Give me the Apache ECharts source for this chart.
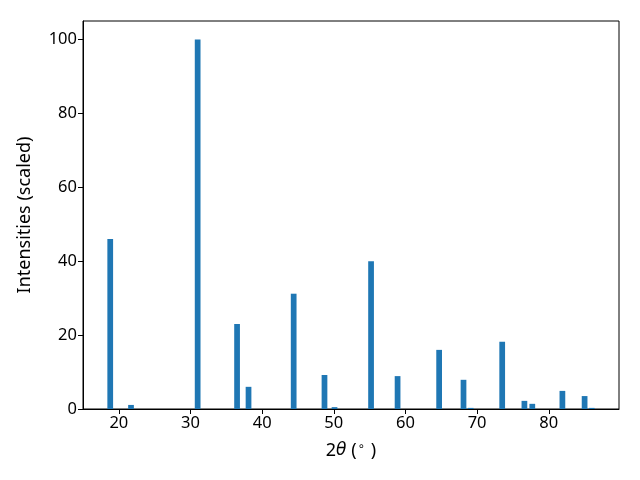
<!DOCTYPE html>
<html>
<head>
<meta charset="utf-8">
<script src="https://cdn.jsdelivr.net/npm/echarts@6/dist/echarts.min.js"></script>
<style>html,body{margin:0;padding:0;background:#fff}#c{width:640px;height:480px}</style>
</head>
<body>
<div id="c"></div>
<script>
var positions = [18.8, 21.7, 31.0, 36.5, 38.1, 44.4, 48.7, 50.1, 55.2, 58.9, 64.7, 68.1, 69.1, 73.5, 76.6, 77.7, 81.9, 85.0, 86.0];
var intensities = [46, 1.1, 100, 23, 6, 31.2, 9.2, 0.5, 40, 8.9, 16, 7.9, 0.3, 18.2, 2.2, 1.4, 4.9, 3.5, 0.3];
var xTicks = [20, 30, 40, 50, 60, 70, 80];
var yTicks = [0, 20, 40, 60, 80, 100];
var barWidth = 0.8;

var data = positions.map(function (p, i) { return [p, intensities[i]]; });
var font = 'Noto Sans';
var chart = echarts.init(document.getElementById('c'), null, {renderer: 'canvas'});
chart.setOption({
  animation: false,
  grid: {left: 83, right: 21, top: 21, bottom: 71, show: true, borderColor: '#000', borderWidth: 1, backgroundColor: 'transparent'},
  xAxis: {
    type: 'value', min: 15, max: 89.8,
    name: '{n|2}{i|θ}{n| (}{s|∘}{n| )}', nameLocation: 'middle', nameGap: 32,
    nameTextStyle: {rich: {
      n: {fontFamily: font, fontSize: 18, color: '#000'},
      i: {fontFamily: 'DejaVu Sans', fontSize: 17, fontStyle: 'italic', color: '#000'},
      s: {fontFamily: 'DejaVu Sans', fontSize: 12, color: '#000', verticalAlign: 'top', padding: [0, 1, 8, 1]}
    }},
    axisLine: {show: true, lineStyle: {color: '#000', width: 1}},
    axisTick: {show: true, inside: false, length: 5, lineStyle: {color: '#000'}, customValues: xTicks},
    axisLabel: {fontFamily: font, fontSize: 16.5, color: '#000', margin: 6, customValues: xTicks},
    splitLine: {show: false}
  },
  yAxis: {
    type: 'value', min: 0, max: 105,
    name: 'Intensities (scaled)', nameLocation: 'middle', nameGap: 49,
    nameTextStyle: {fontFamily: font, fontSize: 18, color: '#000'},
    axisLine: {show: true, lineStyle: {color: '#000', width: 1}},
    axisTick: {show: true, inside: false, length: 5, lineStyle: {color: '#000'}, customValues: yTicks},
    axisLabel: {fontFamily: font, fontSize: 16.5, color: '#000', margin: 6, customValues: yTicks},
    splitLine: {show: false}
  },
  series: [{
    type: 'custom',
    data: data,
    renderItem: function (params, api) {
      var x = api.value(0), y = api.value(1);
      var p0 = api.coord([x - barWidth / 2, y]);
      var p1 = api.coord([x + barWidth / 2, 0]);
      return {type: 'rect', shape: {x: p0[0], y: p0[1], width: p1[0] - p0[0], height: p1[1] - p0[1]}, style: {fill: '#1f77b4'}};
    },
    encode: {x: 0, y: 1}
  }]
});
</script>
</body>
</html>
